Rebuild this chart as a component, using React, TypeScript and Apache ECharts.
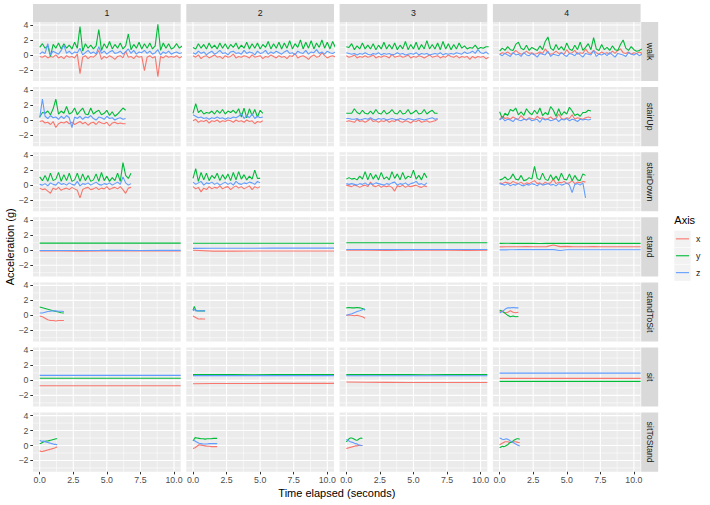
import React, { useEffect, useRef } from "react";
import * as echarts from "echarts";

// ---------- data (acceleration in g), one inner array per subject 1..4 ----------
const SUBJECTS = ["1", "2", "3", "4"];
const ACTIVITIES = ["walk", "stairUp", "stairDown", "stand", "standToSit", "sit", "sitToStand"];
const AXIS_KEYS = ["x", "y", "z"];

const walkDt = [0.2, 0.2, 0.2, 0.2];
const walkX = [
  [-0.2,-0.3,-0.1,-0.4,-0.2,-0.3,0.0,-0.4,-0.2,-0.5,-0.1,-0.3,-0.2,-0.4,0.1,-2.5,-0.3,-0.1,-0.5,-0.2,-0.3,0.0,0.6,-0.6,-0.2,-0.4,-0.1,-0.3,-0.6,-0.2,-0.1,-0.4,0.5,-0.3,-0.2,-0.5,-0.1,-0.3,-0.2,-2.1,-0.3,-0.1,-0.4,-0.2,-2.9,-0.2,-0.4,-0.1,-0.3,-0.2,-0.3,-0.1,-0.4,-0.2],
  [-0.1,-0.3,0.0,-0.5,-0.2,-0.1,-0.4,-0.2,0.0,-0.3,-0.2,-0.5,-0.1,-0.3,-0.2,0.1,-0.4,-0.2,-0.3,-0.1,-0.2,-0.4,0.0,-0.3,-0.2,-0.1,-0.5,-0.2,-0.3,0.0,-0.2,-0.4,-0.1,-0.3,-0.2,-0.5,-0.1,-0.2,0.2,-0.4,-0.2,-0.1,-0.3,-0.6,-0.2,0.0,-0.3,-0.2,0.3,-0.1,-0.4,-0.2,-0.1,-0.3],
  [-0.1,-0.3,-0.2,0.0,-0.4,-0.2,-0.3,-0.1,-0.3,-0.2,0.0,-0.4,-0.2,-0.3,-0.1,-0.2,-0.4,0.1,-0.3,-0.2,-0.1,-0.3,-0.2,0.0,-0.4,-0.2,-0.3,-0.1,-0.2,-0.4,-0.2,0.0,-0.3,-0.2,-0.1,-0.4,-0.2,-0.3,0.0,-0.2,-0.3,-0.1,-0.4,-0.2,-0.3,-0.2,-0.6,-0.2,-0.4,-0.2,-0.3,-0.2,-0.5,-0.3],
  [0.1,0.3,0.2,0.4,0.1,0.2,0.6,0.3,0.1,0.2,0.5,0.2,0.3,0.1,0.2,0.4,0.2,0.8,0.3,0.1,0.2,0.5,0.2,0.3,0.1,0.7,0.2,0.3,0.6,0.1,0.3,0.2,0.8,0.3,0.2,0.6,0.3,0.1,0.4,0.2,0.3,0.1,0.5,0.2,0.6,0.8,0.3,0.2,0.4,0.1,0.3,0.2,0.4,0.2],
];
const walkY = [
  [1.0,1.5,0.9,1.2,-0.2,1.4,0.9,1.6,0.8,1.5,0.9,1.3,0.8,1.7,0.9,3.8,0.5,1.5,0.9,1.3,0.8,1.2,3.4,0.6,1.5,0.9,1.8,0.8,1.4,0.9,1.6,0.8,1.2,2.8,0.7,1.4,0.9,1.7,0.8,1.5,0.9,1.6,0.8,1.2,4.1,0.6,1.6,0.9,1.5,0.8,1.0,1.5,0.9,1.2],
  [1.0,0.8,1.5,0.9,1.4,0.8,1.6,0.9,1.3,0.8,1.6,0.9,1.5,0.8,1.4,1.0,1.6,0.8,1.3,0.9,1.7,0.8,1.5,0.9,1.6,0.8,1.4,1.0,1.8,0.8,1.5,0.9,1.7,0.8,1.6,0.9,1.9,0.8,1.5,1.0,2.0,0.8,1.7,0.9,1.9,0.8,1.6,1.0,2.0,0.9,1.7,0.8,1.8,1.0],
  [1.1,1.0,1.5,0.7,1.2,0.8,1.6,0.8,1.3,0.8,1.5,0.7,1.3,0.8,1.7,0.8,1.4,0.8,1.6,0.7,1.3,0.8,1.8,0.7,1.4,0.8,1.7,0.7,1.4,0.8,1.9,0.8,1.4,0.8,1.6,0.7,1.8,0.8,1.5,0.7,1.4,0.8,1.6,0.9,1.2,0.8,1.0,0.9,1.3,0.8,1.0,0.9,1.1,1.1],
  [0.5,0.9,0.6,1.1,0.7,0.6,1.4,1.7,0.9,0.7,1.3,0.6,1.0,0.8,0.6,1.2,0.7,1.8,2.4,0.9,0.6,1.4,0.7,1.1,0.6,1.6,0.8,0.6,1.3,0.7,1.7,0.6,1.0,1.5,0.7,2.3,0.8,0.6,1.4,0.7,1.0,0.6,1.2,0.7,0.6,1.4,2.0,0.9,0.6,1.1,0.7,0.5,0.6,0.8],
];
const walkZ = [
  [0.1,0.4,0.2,1.5,0.0,0.5,0.3,0.1,0.6,1.3,0.2,0.5,0.1,0.4,0.3,0.9,0.0,0.3,0.6,0.2,0.4,0.1,1.1,0.2,0.5,0.1,0.4,0.6,0.2,0.3,0.5,0.1,0.4,0.8,0.2,0.6,0.1,0.4,0.3,0.6,0.2,0.5,0.1,0.3,0.7,0.0,0.4,0.2,0.5,0.1,0.3,0.4,0.2,0.3],
  [0.3,0.1,0.5,0.2,0.4,0.0,0.3,0.5,0.1,0.3,0.6,0.2,0.3,0.0,0.4,0.5,0.2,0.3,0.1,0.6,0.2,0.4,0.3,0.0,0.5,0.2,0.3,0.6,0.1,0.4,0.2,0.5,0.3,0.1,0.4,0.6,0.2,0.3,0.0,0.5,0.3,0.2,0.6,0.1,0.4,0.3,0.7,0.2,0.4,0.1,0.5,0.3,0.2,0.4],
  [0.3,0.2,0.1,0.2,0.0,0.2,0.1,0.3,0.1,0.0,0.2,0.1,0.3,0.0,0.2,0.1,0.2,0.0,0.1,0.3,0.1,0.2,0.0,0.1,0.2,0.1,0.3,0.0,0.2,0.1,0.2,0.0,0.1,0.2,0.1,0.3,0.0,0.2,0.1,0.2,0.1,0.3,0.2,0.1,0.4,0.2,0.3,0.5,0.2,0.7,0.3,0.2,0.4,0.1],
  [0.1,-0.1,0.2,0.0,-0.2,0.3,0.0,0.1,-0.2,0.3,0.0,-0.1,0.2,0.0,-0.3,0.2,0.1,0.0,0.5,-0.2,0.1,0.0,-0.1,0.3,0.0,-0.2,0.2,0.1,-0.1,0.3,0.0,-0.3,0.2,0.1,0.0,0.6,-0.2,0.1,0.0,0.2,-0.1,0.3,0.0,-0.3,0.2,0.1,0.0,-0.2,0.3,0.1,0.0,0.2,-0.1,0.1],
];

const stairUpDt = [0.2, 0.2, 0.2, 0.2];
const stairUpX = [
  [-0.2,-0.1,-0.4,-0.3,-0.6,-0.2,-1.0,-0.5,-0.3,-0.4,-0.2,-0.5,-0.3,-0.6,-0.4,-0.2,-0.5,-0.3,-0.7,-0.4,-0.3,-0.6,-0.2,-0.4,-0.5,-0.3,-0.8,-0.4,-0.3,-0.5,-0.4,-0.5,-0.5],
  [-0.1,0.1,-0.3,-0.1,-0.2,0.0,-0.4,-0.1,-0.2,0.0,-0.3,-0.1,-0.2,0.0,-0.1,-0.3,0.0,-0.2,-0.1,-0.3,0.0,-0.2,-0.1,-0.5,-0.2,-0.3,-0.1],
  [-0.2,-0.1,-0.2,-0.3,0.1,-0.2,-0.1,-0.3,-0.1,0.2,-0.2,-0.1,-0.3,-0.1,-0.2,0.0,-0.3,-0.1,-0.2,0.1,-0.2,-0.3,-0.1,-0.2,-0.4,-0.1,-0.2,0.0,-0.3,-0.2,-0.1,-0.3,-0.2,-0.1,0.1],
  [0.1,0.5,0.2,0.3,0.1,0.4,0.2,0.1,0.6,0.2,0.0,0.3,0.2,0.1,0.5,0.2,0.3,0.1,0.2,0.4,0.1,0.2,0.8,0.2,0.1,0.3,0.2,0.7,0.1,0.3,0.2,0.1,0.3,0.4,0.3],
];
const stairUpY = [
  [0.4,1.0,0.9,1.2,0.7,1.5,2.8,0.8,1.2,0.9,1.8,0.8,1.0,1.6,0.7,1.2,1.6,0.8,0.7,1.6,0.8,1.1,1.3,0.7,0.9,1.3,0.6,1.1,0.5,0.8,1.2,1.6,1.3],
  [0.9,2.2,1.0,1.3,0.8,1.0,0.9,1.2,0.8,1.3,0.9,1.4,0.8,1.2,1.0,1.3,0.9,1.5,0.4,1.6,0.3,1.5,0.6,1.4,0.4,1.3,0.9],
  [0.9,0.9,0.9,1.5,1.0,0.8,1.3,0.9,0.8,1.2,0.8,1.4,0.9,0.8,1.3,0.8,1.0,1.4,0.9,0.8,1.3,0.8,0.9,1.4,0.8,1.0,1.3,0.8,0.9,1.4,0.8,1.1,1.3,0.9,0.9],
  [1.1,0.2,0.9,0.6,1.4,1.2,1.6,0.7,1.1,0.6,1.5,1.0,0.7,1.3,0.8,1.6,0.6,1.0,0.7,1.8,1.3,0.5,1.5,0.6,1.1,0.8,1.7,1.2,0.6,0.8,0.5,1.0,1.0,1.3,1.2],
];
const stairUpZ = [
  [0.3,2.8,0.5,0.2,0.6,0.3,0.4,0.1,0.5,0.2,0.6,0.3,-1.0,0.4,0.2,0.5,0.1,0.4,0.3,0.6,0.2,0.0,0.4,0.3,0.1,0.5,0.2,0.3,0.0,0.2,0.3,0.1,0.2],
  [0.7,0.5,0.3,0.4,0.2,0.3,0.1,0.3,0.2,0.4,0.2,0.3,0.1,0.3,0.2,0.4,0.3,0.5,0.9,0.2,0.6,0.3,0.8,0.2,0.5,0.3,0.4],
  [0.2,0.2,0.1,0.1,0.2,0.0,0.1,0.2,0.1,0.3,0.1,0.0,0.2,0.1,0.2,0.0,0.1,0.2,0.1,0.0,0.2,0.1,0.0,0.2,0.1,0.0,0.1,0.2,0.1,0.0,0.1,0.2,0.3,0.1,0.2],
  [0.0,0.3,-0.1,0.1,0.0,-0.2,0.2,0.0,-0.1,0.1,0.0,0.2,-0.1,0.0,0.1,-0.3,0.2,0.0,0.1,-0.1,0.0,0.2,-0.2,0.1,0.0,0.2,-0.1,0.1,0.0,-0.2,0.1,0.0,0.1,0.0,0.1],
];

const stairDownDt = [0.2, 0.2, 0.2, 0.2];
const stairDownX = [
  [-0.4,-0.6,-0.5,-0.8,-1.1,-0.4,-0.6,-0.3,-0.7,-0.5,-0.4,-0.6,-0.3,-0.5,-0.7,-1.7,-0.6,-0.4,-0.3,-0.6,-0.5,-0.3,-0.6,-0.4,-0.5,-0.2,-0.6,-0.4,-0.3,-0.5,-0.2,-0.6,-1.1,-0.4,-0.3],
  [-0.2,-0.5,-0.3,-0.9,-0.4,-0.6,-0.2,-0.5,-0.3,-0.4,-0.1,-0.5,-0.3,-0.2,-0.6,-0.3,-0.1,-0.4,-0.2,-0.5,-0.3,-0.1,-0.6,-0.2,-0.4,-0.2],
  [0.0,-0.1,-0.2,0.0,-0.1,-0.3,-0.1,0.0,-0.2,0.4,-0.1,-0.2,0.0,-0.3,-0.1,-0.2,-0.1,-0.3,-0.8,-0.1,-0.2,0.0,-0.3,-0.1,-0.2,-0.1,0.0,-0.2,-0.3,-0.1,-0.2],
  [0.3,0.2,0.4,0.3,0.2,0.5,0.3,0.2,0.4,0.1,0.3,0.2,0.4,0.6,0.2,0.3,0.1,0.4,0.2,0.3,0.8,0.2,0.4,0.3,0.5,0.2,0.3,0.6,0.2,0.4,0.3,0.5,0.4],
];
const stairDownY = [
  [1.1,0.6,1.3,0.5,1.6,0.6,0.8,1.7,0.5,1.4,0.6,1.6,0.5,0.7,1.6,0.5,1.5,0.6,1.3,0.5,0.7,1.5,0.5,1.7,0.6,1.2,0.5,1.0,0.6,1.6,0.5,3.0,1.3,0.9,1.6],
  [0.9,2.2,0.5,1.7,0.7,1.6,0.6,1.3,0.9,1.6,0.6,1.4,0.8,1.5,0.6,1.7,0.7,1.8,0.8,1.4,0.7,1.2,0.8,2.0,0.9,0.9],
  [0.8,1.0,0.8,0.9,0.7,1.2,0.8,1.8,0.7,1.6,0.8,1.4,0.7,1.7,0.8,1.1,0.7,1.8,0.9,1.5,0.7,1.7,0.8,1.2,1.0,2.0,0.8,1.3,0.7,1.6,1.0],
  [0.7,0.8,1.1,0.7,0.9,1.5,0.8,0.7,1.3,0.6,0.7,1.0,0.8,2.5,0.9,0.7,1.6,0.8,0.6,1.4,0.7,1.2,0.6,1.6,0.8,0.7,1.5,0.6,1.3,0.7,0.6,1.5,1.3],
];
const stairDownZ = [
  [0.1,0.0,0.2,-0.1,0.3,0.1,0.0,0.4,0.1,0.2,0.0,0.3,0.1,0.0,0.5,-0.1,0.2,0.1,0.3,0.0,0.2,0.4,0.1,0.0,0.2,0.1,0.3,0.0,0.2,0.4,0.1,1.1,0.3,0.0,0.2],
  [0.4,0.1,0.3,0.5,0.0,0.3,0.2,0.4,0.1,0.3,0.0,0.2,0.4,0.1,0.3,0.0,0.5,0.2,0.1,0.3,0.2,0.4,0.3,0.1,0.5,0.3],
  [0.2,0.1,0.2,0.1,0.0,0.2,0.1,0.3,0.0,0.2,0.1,0.3,0.2,0.1,0.0,0.2,0.1,0.3,0.4,0.0,0.2,0.1,0.3,0.0,0.2,0.3,0.5,0.1,0.2,0.0,0.3],
  [0.2,0.1,0.0,0.2,-0.1,0.1,0.0,0.2,0.0,-0.1,0.1,0.0,0.2,0.1,-0.1,0.2,0.0,0.1,0.2,0.0,0.1,-0.1,0.2,0.0,0.1,0.3,0.0,-1.0,0.1,0.2,0.0,0.3,-1.7],
];

const standDt = [1.5, 1.5, 1.5, 0.5];
const standX = [
  [-0.1,-0.1,-0.12,-0.1,-0.1,-0.08,-0.1,-0.1],
  [0.0,-0.12,-0.12,-0.11,-0.1,-0.1,-0.1,-0.1],
  [0.0,0.0,-0.02,0.0,0.0,0.0,-0.02,0.0],
  [0.45,0.47,0.47,0.47,0.48,0.47,0.47,0.48,0.7,0.48,0.52,0.47,0.47,0.47,0.48,0.47,0.47,0.47,0.47,0.47,0.47,0.47],
];
const standY = [
  [0.95,0.95,0.95,0.95,0.95,0.95,0.95,0.95],
  [0.93,0.93,0.93,0.93,0.93,0.93,0.93,0.93],
  [1.0,1.0,1.0,1.0,1.0,1.0,1.0,1.0],
  [0.92,0.93,0.92,0.92,0.92,0.92,0.9,0.92,0.92,0.92,0.92,0.92,0.92,0.92,0.92,0.92,0.92,0.92,0.92,0.92,0.92,0.92],
];
const standZ = [
  [-0.03,-0.04,-0.03,-0.02,0.0,-0.04,0.0,-0.02],
  [0.25,0.26,0.27,0.27,0.28,0.28,0.28,0.28],
  [0.1,0.1,0.1,0.1,0.1,0.1,0.1,0.1],
  [0.05,0.05,0.07,0.08,0.08,0.08,0.08,0.08,0.08,-0.03,0.06,0.07,0.07,0.07,0.07,0.06,0.06,0.06,0.06,0.06,0.06,0.06],
];

const standToSitDt = [0.2, 0.1, 0.2, 0.2];
const standToSitX = [
  [-0.1,-0.2,-0.4,-0.6,-0.7,-0.7,-0.75,-0.7,-0.7,-0.7],
  [-0.1,-0.2,-0.3,-0.4,-0.5,-0.5,-0.45,-0.5,-0.5,-0.5],
  [0.0,0.0,0.0,-0.05,0.0,-0.1,-0.2,-0.4],
  [0.5,0.6,0.3,0.4,0.6,0.4,0.35,0.4],
];
const standToSitY = [
  [1.1,1.0,0.9,0.8,0.7,0.6,0.5,0.45,0.35,0.3],
  [0.7,1.2,0.7,0.6,0.6,0.6,0.6,0.6,0.6,0.6],
  [1.0,1.05,1.0,1.0,1.05,1.0,0.9,0.7],
  [0.7,0.5,0.3,0.0,-0.2,-0.1,-0.2,-0.15],
];
const standToSitZ = [
  [0.3,0.3,0.4,0.5,0.55,0.6,0.6,0.55,0.55,0.5],
  [0.6,0.8,0.6,0.6,0.65,0.6,0.6,0.6,0.6,0.6],
  [0.0,0.1,0.2,0.35,0.5,0.6,0.75,0.85],
  [0.3,0.5,0.8,1.0,1.0,1.05,1.0,1.0],
];

const sitDt = [1.5, 1.5, 1.5, 1.5];
const sitX = [
  [-0.72,-0.72,-0.72,-0.72,-0.72,-0.72,-0.71,-0.71],
  [-0.45,-0.42,-0.41,-0.41,-0.40,-0.40,-0.40,-0.40],
  [-0.22,-0.25,-0.26,-0.27,-0.27,-0.27,-0.27,-0.27],
  [0.27,0.27,0.27,0.27,0.27,0.27,0.27,0.27],
];
const sitY = [
  [0.28,0.28,0.28,0.28,0.28,0.28,0.28,0.28],
  [0.77,0.77,0.77,0.76,0.77,0.77,0.77,0.77],
  [0.77,0.77,0.77,0.77,0.76,0.77,0.77,0.77],
  [-0.13,-0.13,-0.13,-0.13,-0.13,-0.13,-0.13,-0.13],
];
const sitZ = [
  [0.67,0.67,0.67,0.67,0.67,0.67,0.67,0.67],
  [0.64,0.64,0.64,0.64,0.64,0.64,0.64,0.64],
  [0.62,0.62,0.62,0.62,0.62,0.62,0.62,0.62],
  [0.98,0.98,0.98,0.98,0.98,0.98,0.98,0.98],
];

const sitToStandDt = [0.1, 0.15, 0.1, 0.1];
const sitToStandX = [
  [-0.7,-0.8,-0.8,-0.75,-0.7,-0.65,-0.6,-0.55,-0.5,-0.45,-0.4,-0.35,-0.25,-0.2],
  [-0.4,-0.3,-0.1,0.1,0.05,0.0,-0.05,-0.1,-0.1,-0.15,-0.15,-0.15,-0.15],
  [-0.4,-0.35,-0.3,-0.25,-0.2,-0.15,-0.1,-0.05,-0.05,0.0,0.0,0.0,0.0],
  [0.1,0.2,0.3,0.4,0.5,0.5,0.5,0.45,0.4,0.4,0.45,0.5,0.5,0.45,0.4,0.4],
];
const sitToStandY = [
  [0.25,0.3,0.4,0.5,0.55,0.6,0.6,0.65,0.7,0.75,0.8,0.85,0.9,0.9],
  [0.6,1.05,1.0,0.95,0.9,0.9,0.85,0.9,0.9,0.9,0.95,0.95,0.95],
  [0.5,0.7,0.9,1.0,1.0,0.95,0.85,0.75,0.7,0.8,0.95,1.0,0.95],
  [-0.3,-0.2,-0.1,-0.15,-0.1,0.0,0.1,0.3,0.4,0.5,0.6,0.75,0.85,0.9,0.9,0.85],
];
const sitToStandZ = [
  [0.7,0.6,0.55,0.6,0.5,0.45,0.4,0.35,0.3,0.25,0.2,0.15,0.15,0.1],
  [0.75,0.6,0.45,0.3,0.25,0.2,0.2,0.2,0.25,0.25,0.25,0.25,0.25],
  [0.8,0.75,0.6,0.5,0.45,0.4,0.3,0.25,0.2,0.1,0.05,0.0,0.0],
  [1.0,0.95,0.85,0.8,0.85,0.9,0.85,0.75,0.6,0.5,0.4,0.3,0.2,0.1,0.0,-0.05],
];

// tick values
const X_MAJOR = [0, 2.5, 5, 7.5, 10];
const X_MINOR = [1.25, 3.75, 6.25, 8.75];
const Y_MAJOR = [-2, 0, 2, 4];
const Y_MINOR = [-3, -1, 1, 3];

// ---------- styling / layout ----------
const COLORS: Record<string, string> = { x: "#F8766D", y: "#00BA38", z: "#619CFF" };
const FONT = "'Liberation Sans', Arial, Helvetica, sans-serif";
const L0 = 33;
const COL_STEP = 153.3;
const PW = 147.7;
const T0 = 22;
const ROW_STEP = 65.1;
const PH = 59.1;
const X_MIN = -0.5;
const X_MAX = 10.5;
const Y_MIN = -3.5;
const Y_MAX = 4.4;

const ROWS = [
  { dt: walkDt, x: walkX, y: walkY, z: walkZ },
  { dt: stairUpDt, x: stairUpX, y: stairUpY, z: stairUpZ },
  { dt: stairDownDt, x: stairDownX, y: stairDownY, z: stairDownZ },
  { dt: standDt, x: standX, y: standY, z: standZ },
  { dt: standToSitDt, x: standToSitX, y: standToSitY, z: standToSitZ },
  { dt: sitDt, x: sitX, y: sitY, z: sitZ },
  { dt: sitToStandDt, x: sitToStandX, y: sitToStandY, z: sitToStandZ },
];

const gridRender = (params: any, api: any) => {
  const cs = params.coordSys;
  const children: any[] = [];
  const vline = (v: number, w: number) => {
    const px = api.coord([v, 0])[0];
    children.push({ type: "line", shape: { x1: px, y1: cs.y, x2: px, y2: cs.y + cs.height }, style: { stroke: "#FFFFFF", lineWidth: w } });
  };
  const hline = (v: number, w: number) => {
    const py = api.coord([0, v])[1];
    children.push({ type: "line", shape: { x1: cs.x, y1: py, x2: cs.x + cs.width, y2: py }, style: { stroke: "#FFFFFF", lineWidth: w } });
  };
  X_MINOR.forEach((v) => vline(v, 0.55));
  Y_MINOR.forEach((v) => hline(v, 0.55));
  X_MAJOR.forEach((v) => vline(v, 1.1));
  Y_MAJOR.forEach((v) => hline(v, 1.1));
  return { type: "group", children };
};

export default function App() {
  const ref = useRef<HTMLDivElement>(null);
  useEffect(() => {
    if (!ref.current) return;
    const chart = echarts.init(ref.current, null, { renderer: "svg" });
    const grid: any[] = [];
    const xAxis: any[] = [];
    const yAxis: any[] = [];
    const series: any[] = [];
    const graphic: any[] = [];

    ROWS.forEach((row: any, r) => {
      for (let c = 0; c < 4; c++) {
        const idx = r * 4 + c;
        const left = L0 + c * COL_STEP;
        const top = T0 + r * ROW_STEP;
        const bottomRow = r === ROWS.length - 1;
        const leftCol = c === 0;
        grid.push({ left, top, width: PW, height: PH, show: true, backgroundColor: "#EBEBEB", borderWidth: 0 });
        xAxis.push({
          type: "value", gridIndex: idx, min: X_MIN, max: X_MAX, position: "bottom",
          axisLine: { show: false, onZero: false },
          splitLine: { show: false },
          axisTick: { show: bottomRow, customValues: X_MAJOR, length: 2.7, lineStyle: { color: "#333333", width: 1 } },
          axisLabel: {
            show: bottomRow, customValues: X_MAJOR, margin: 4, color: "#4D4D4D", fontSize: 8.8, fontFamily: FONT,
            formatter: (v: number) => v.toFixed(1),
          },
        });
        yAxis.push({
          type: "value", gridIndex: idx, min: Y_MIN, max: Y_MAX, position: "left",
          axisLine: { show: false, onZero: false },
          splitLine: { show: false },
          axisTick: { show: leftCol, customValues: Y_MAJOR, length: 2.7, lineStyle: { color: "#333333", width: 1 } },
          axisLabel: {
            show: leftCol, customValues: Y_MAJOR, margin: 4.5, color: "#4D4D4D", fontSize: 8.8, fontFamily: FONT,
            formatter: (v: number) => String(v).replace("-", "\u2212"),
          },
        });
        series.push({
          type: "custom", xAxisIndex: idx, yAxisIndex: idx, data: [[0, 0]], z: 1, silent: true,
          renderItem: gridRender,
        });
        AXIS_KEYS.forEach((k) => {
          const vals: number[] = row[k][c];
          const dt: number = row.dt[c];
          series.push({
            type: "line", xAxisIndex: idx, yAxisIndex: idx, z: 2, silent: true,
            showSymbol: false, symbol: "none", clip: true,
            lineStyle: { width: 1.1, color: COLORS[k] },
            itemStyle: { color: COLORS[k] },
            data: vals.map((v, i) => [Math.round(i * dt * 1000) / 1000, v]),
          });
        });
      }
    });

    // top strips
    SUBJECTS.forEach((s, c) => {
      const left = L0 + c * COL_STEP;
      graphic.push({ type: "rect", shape: { x: left, y: 4, width: PW, height: 18 }, style: { fill: "#D9D9D9" }, silent: true });
      graphic.push({
        type: "text", x: left + PW / 2, y: 13, silent: true,
        style: { text: s, fill: "#1A1A1A", fontSize: 8.8, fontFamily: FONT, textAlign: "center", textVerticalAlign: "middle" },
      });
    });
    // right strips
    ACTIVITIES.forEach((a, r) => {
      const top = T0 + r * ROW_STEP;
      const sx = L0 + 3 * COL_STEP + PW + 0.6;
      graphic.push({ type: "rect", shape: { x: sx, y: top, width: 17, height: PH }, style: { fill: "#D9D9D9" }, silent: true });
      graphic.push({
        type: "text", x: sx + 8.5, y: top + PH / 2, rotation: -Math.PI / 2, silent: true,
        style: { text: a, fill: "#1A1A1A", fontSize: 8.8, fontFamily: FONT, textAlign: "center", textVerticalAlign: "middle" },
      });
    });
    // axis titles
    graphic.push({
      type: "text", x: L0 + (3 * COL_STEP + PW) / 2, y: 493, silent: true,
      style: { text: "Time elapsed (seconds)", fill: "#000000", fontSize: 11, fontFamily: FONT, textAlign: "center", textVerticalAlign: "middle" },
    });
    graphic.push({
      type: "text", x: 9.5, y: T0 + (6 * ROW_STEP + PH) / 2, rotation: Math.PI / 2, silent: true,
      style: { text: "Acceleration (g)", fill: "#000000", fontSize: 11, fontFamily: FONT, textAlign: "center", textVerticalAlign: "middle" },
    });
    // legend
    graphic.push({
      type: "text", x: 674.3, y: 220, silent: true,
      style: { text: "Axis", fill: "#000000", fontSize: 11, fontFamily: FONT, textAlign: "left", textVerticalAlign: "middle" },
    });
    AXIS_KEYS.forEach((k, i) => {
      const ky = 230.7 + i * 16.9;
      graphic.push({ type: "rect", shape: { x: 674.3, y: ky, width: 16.3, height: 16.3 }, style: { fill: "#F2F2F2" }, silent: true });
      graphic.push({ type: "line", shape: { x1: 675.9, y1: ky + 8.15, x2: 689, y2: ky + 8.15 }, style: { stroke: COLORS[k], lineWidth: 1.1 }, silent: true });
      graphic.push({
        type: "text", x: 696, y: ky + 8.3, silent: true,
        style: { text: k, fill: "#1A1A1A", fontSize: 8.8, fontFamily: FONT, textAlign: "left", textVerticalAlign: "middle" },
      });
    });

    chart.setOption({
      animation: false,
      backgroundColor: "#FFFFFF",
      textStyle: { fontFamily: FONT },
      grid, xAxis, yAxis, series, graphic,
    });
    return () => chart.dispose();
  }, []);
  return <div ref={ref} style={{ position: "fixed", left: 0, top: 0, width: 710, height: 505 }} />;
}
